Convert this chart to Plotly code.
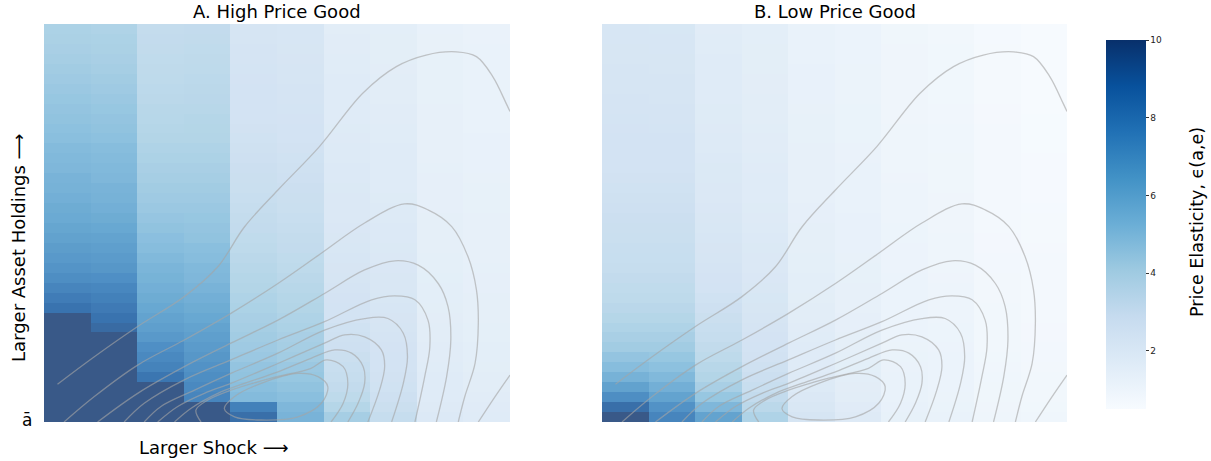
import plotly.graph_objects as go

# ---------------- data (each column: 40 asset rows, bottom -> top) ----------------
SHOCK_COLUMNS = list(range(10))
N_ROWS = 40

HIGH_S1 = [10]*11 + [8.8, 8.4, 8.0, 7.6, 7.3, 7.1, 6.9, 6.7, 6.5, 6.3, 6.2, 6.0, 5.9, 5.8, 5.6, 5.5, 5.4, 5.2, 5.1, 5.0,
                     4.9, 4.8, 4.7, 4.6, 4.5, 4.4, 4.3, 4.25, 4.2]
HIGH_S2 = [10]*9 + [9.2, 8.8, 8.5, 8.2, 7.9, 7.5, 7.2, 7.0, 6.8, 6.6, 6.4, 6.2, 6.0, 5.9, 5.8, 5.6, 5.5, 5.4, 5.3, 5.1, 5.0,
                    4.9, 4.8, 4.7, 4.6, 4.5, 4.4, 4.3, 4.25, 4.2, 4.1]
HIGH_S3 = [10]*4 + [8.7, 8.1, 7.8, 7.5, 7.1, 6.8, 6.6, 6.4, 6.2, 6.0, 5.85, 5.7, 5.5, 5.3, 5.15, 5.0, 4.85, 4.7, 4.6, 4.5,
                    4.4, 4.3, 4.2, 4.1, 4.0, 3.9, 3.85, 3.8, 3.7, 3.65, 3.6, 3.55, 3.5, 3.45, 3.4, 3.35]
HIGH_S4 = [10]*2 + [8.0, 7.8, 7.6, 7.4, 7.2, 7.0, 6.8, 6.6, 6.4, 6.2, 6.0, 5.8, 5.6, 5.5, 5.3, 5.2, 5.0, 4.9, 4.8, 4.7,
                    4.6, 4.5, 4.4, 4.3, 4.2, 4.1, 4.0, 3.95, 3.9, 3.8, 3.75, 3.7, 3.65, 3.6, 3.55, 3.5, 3.45, 3.4]
HIGH_S5 = [9.0, 8.2, 5.4, 5.2, 5.0, 4.9, 4.7, 4.6, 4.5, 4.4, 4.3, 4.2, 4.1, 4.0, 3.9, 3.8, 3.7, 3.6, 3.5, 3.4,
           3.35, 3.3, 3.2, 3.15, 3.1, 3.05, 3.0, 2.95, 2.9, 2.85, 2.8, 2.78, 2.75, 2.72, 2.7, 2.68, 2.65, 2.62, 2.6, 2.58]
HIGH_S6 = [5.8, 5.6, 5.2, 5.0, 4.8, 4.7, 4.5, 4.4, 4.3, 4.2, 4.1, 4.0, 3.9, 3.8, 3.7, 3.6, 3.5, 3.4, 3.35, 3.3,
           3.2, 3.15, 3.1, 3.05, 3.0, 2.95, 2.9, 2.85, 2.8, 2.75, 2.7, 2.68, 2.65, 2.62, 2.6, 2.58, 2.55, 2.52, 2.5, 2.48]
HIGH_S7 = [4.4, 3.9, 3.6, 3.4, 3.3, 3.2, 3.1, 3.0, 2.95, 2.9, 2.8, 2.75, 2.7, 2.65, 2.6, 2.55, 2.5, 2.45, 2.4, 2.35,
           2.3, 2.28, 2.25, 2.22, 2.2, 2.17, 2.15, 2.12, 2.1, 2.08, 2.05, 2.03, 2.0, 1.98, 1.96, 1.94, 1.92, 1.9, 1.88, 1.86]
HIGH_S8 = [3.3, 3.1, 3.0, 2.9, 2.85, 2.8, 2.75, 2.7, 2.65, 2.6, 2.55, 2.5, 2.45, 2.4, 2.36, 2.32, 2.28, 2.24, 2.2, 2.17,
           2.14, 2.11, 2.08, 2.05, 2.02, 2.0, 1.98, 1.96, 1.94, 1.92, 1.9, 1.88, 1.86, 1.84, 1.82, 1.8, 1.79, 1.78, 1.77, 1.76]
HIGH_S9 = [2.2, 2.1, 2.05, 2.0, 1.97, 1.94, 1.91, 1.88, 1.85, 1.82, 1.8, 1.78, 1.76, 1.74, 1.72, 1.7, 1.68, 1.66, 1.65, 1.64,
           1.62, 1.61, 1.6, 1.59, 1.58, 1.57, 1.56, 1.55, 1.54, 1.53, 1.52, 1.51, 1.5, 1.5, 1.49, 1.48, 1.48, 1.47, 1.47, 1.46]
HIGH_S10 = [2.0, 1.95, 1.9, 1.86, 1.82, 1.79, 1.76, 1.73, 1.7, 1.68, 1.66, 1.64, 1.62, 1.6, 1.58, 1.57, 1.56, 1.54, 1.53, 1.52,
            1.51, 1.5, 1.49, 1.48, 1.47, 1.46, 1.45, 1.44, 1.43, 1.42, 1.42, 1.41, 1.4, 1.4, 1.39, 1.39, 1.38, 1.38, 1.37, 1.37]

LOW_S1 = [10, 9.0, 7.6, 6.7, 5.9, 5.3, 4.9, 4.5, 4.3, 4.1, 3.9, 3.75, 3.6, 3.5, 3.4, 3.3, 3.25, 3.2, 3.15, 3.1,
          3.05, 3.0, 2.95, 2.9, 2.85, 2.8, 2.78, 2.75, 2.72, 2.7, 2.67, 2.65, 2.62, 2.6, 2.58, 2.56, 2.54, 2.52, 2.5, 2.48]
LOW_S2 = [8.0, 7.4, 6.6, 6.0, 5.5, 5.1, 4.8, 4.5, 4.3, 4.1, 3.9, 3.75, 3.6, 3.5, 3.4, 3.3, 3.25, 3.2, 3.15, 3.1,
          3.05, 3.0, 2.95, 2.9, 2.85, 2.8, 2.77, 2.74, 2.71, 2.68, 2.65, 2.62, 2.6, 2.58, 2.56, 2.54, 2.52, 2.5, 2.48, 2.46]
LOW_S3 = [6.6, 5.6, 4.8, 4.3, 4.0, 3.8, 3.6, 3.45, 3.3, 3.2, 3.1, 3.0, 2.9, 2.8, 2.7, 2.65, 2.6, 2.55, 2.5, 2.45,
          2.4, 2.35, 2.3, 2.27, 2.24, 2.21, 2.18, 2.15, 2.12, 2.1, 2.08, 2.06, 2.04, 2.02, 2.0, 1.98, 1.96, 1.94, 1.92, 1.9]
LOW_S4 = [4.1, 3.7, 3.4, 3.2, 3.05, 2.95, 2.85, 2.78, 2.7, 2.64, 2.58, 2.52, 2.46, 2.4, 2.35, 2.3, 2.26, 2.22, 2.18, 2.14,
          2.1, 2.07, 2.04, 2.01, 1.98, 1.95, 1.93, 1.91, 1.89, 1.87, 1.85, 1.83, 1.82, 1.81, 1.8, 1.79, 1.78, 1.77, 1.76, 1.75]
LOW_S5 = [2.6, 2.4, 2.25, 2.15, 2.1, 2.05, 2.0, 1.96, 1.92, 1.88, 1.85, 1.82, 1.79, 1.76, 1.73, 1.7, 1.68, 1.66, 1.64, 1.62,
          1.6, 1.58, 1.56, 1.55, 1.54, 1.53, 1.52, 1.51, 1.5, 1.49, 1.48, 1.47, 1.46, 1.45, 1.44, 1.43, 1.42, 1.41, 1.4, 1.4]
LOW_S6 = [2.1, 1.95, 1.85, 1.8, 1.76, 1.72, 1.69, 1.66, 1.63, 1.6, 1.58, 1.56, 1.54, 1.52, 1.5, 1.48, 1.47, 1.46, 1.45, 1.44,
          1.43, 1.42, 1.41, 1.4, 1.39, 1.38, 1.37, 1.36, 1.35, 1.35, 1.34, 1.34, 1.33, 1.33, 1.32, 1.32, 1.31, 1.31, 1.3, 1.3]
LOW_S7 = [1.5, 1.45, 1.42, 1.4, 1.38, 1.36, 1.34, 1.32, 1.3, 1.29, 1.28, 1.27, 1.26, 1.25, 1.24, 1.23, 1.22, 1.21, 1.2, 1.19,
          1.18, 1.17, 1.16, 1.15, 1.14, 1.13, 1.12, 1.11, 1.1, 1.1, 1.09, 1.09, 1.08, 1.08, 1.07, 1.07, 1.06, 1.06, 1.05, 1.05]
LOW_S8 = [1.4, 1.35, 1.32, 1.3, 1.28, 1.26, 1.24, 1.22, 1.2, 1.19, 1.18, 1.17, 1.16, 1.15, 1.14, 1.13, 1.12, 1.11, 1.1, 1.09,
          1.08, 1.07, 1.06, 1.05, 1.04, 1.03, 1.02, 1.01, 1.0, 1.0, 0.99, 0.99, 0.98, 0.98, 0.97, 0.97, 0.96, 0.96, 0.95, 0.95]
LOW_S9 = [1.1, 1.07, 1.05, 1.03, 1.01, 0.99, 0.97, 0.95, 0.94, 0.93, 0.92, 0.91, 0.9, 0.89, 0.88, 0.87, 0.86, 0.85, 0.84, 0.83,
          0.82, 0.81, 0.8, 0.8, 0.79, 0.79, 0.78, 0.78, 0.77, 0.77, 0.76, 0.76, 0.75, 0.75, 0.74, 0.74, 0.73, 0.73, 0.72, 0.72]
LOW_S10 = [1.0, 0.97, 0.95, 0.93, 0.91, 0.89, 0.87, 0.86, 0.85, 0.84, 0.83, 0.82, 0.81, 0.8, 0.79, 0.78, 0.77, 0.76, 0.75, 0.74,
           0.73, 0.72, 0.71, 0.7, 0.7, 0.69, 0.69, 0.68, 0.68, 0.67, 0.67, 0.66, 0.66, 0.65, 0.65, 0.64, 0.64, 0.63, 0.63, 0.62]

# density contours of the stationary distribution (shock units, asset share)
C1_X = [0.29, 1.08, 2.01, 3.01, 3.73, 4.3, 5.02, 5.91, 6.84, 7.56, 8.2, 8.85, 9.28, 9.63, 9.92, 10.0, None, 10.0, 9.68, 9.32]
C1_Y = [0.095, 0.164, 0.24, 0.315, 0.39, 0.49, 0.583, 0.692, 0.826, 0.893, 0.922, 0.93, 0.918, 0.868, 0.80, 0.78, None, 0.118, 0.064, 0.0]
C2_X = [0.43, 1.08, 2.01, 3.01, 4.01, 5.02, 5.95, 6.88, 7.74, 8.24, 8.75, 9.1, 9.28, 9.32, 9.25, 9.03, 8.89]
C2_Y = [0.0, 0.064, 0.143, 0.206, 0.273, 0.348, 0.424, 0.5, 0.548, 0.533, 0.491, 0.415, 0.332, 0.248, 0.147, 0.064, 0.0]
C3_X = [1.15, 2.01, 3.01, 4.01, 5.02, 6.02, 6.88, 7.53, 8.03, 8.46, 8.67, 8.73, 8.64, 8.42]
C3_Y = [0.0, 0.072, 0.139, 0.198, 0.256, 0.323, 0.382, 0.405, 0.394, 0.348, 0.29, 0.206, 0.114, 0.0]
C4_X = [1.72, 2.15, 3.01, 4.01, 5.02, 6.02, 7.03, 7.53, 7.96, 8.24, 8.28, 8.17, 7.96]
C4_Y = [0.0, 0.047, 0.106, 0.156, 0.206, 0.252, 0.307, 0.317, 0.307, 0.256, 0.189, 0.114, 0.0]
C5_X = [2.15, 2.51, 3.23, 4.01, 5.02, 6.02, 6.88, 7.38, 7.71, 7.8, 7.71, 7.46]
C5_Y = [0.0, 0.039, 0.08, 0.122, 0.173, 0.231, 0.26, 0.26, 0.223, 0.164, 0.097, 0.0]
C6_X = [2.44, 2.87, 3.44, 4.01, 5.02, 6.02, 6.45, 6.88, 7.24, 7.31, 7.2, 6.95]
C6_Y = [0.0, 0.039, 0.072, 0.097, 0.147, 0.198, 0.219, 0.214, 0.181, 0.139, 0.08, 0.0]
C7_X = [2.8, 3.15, 3.73, 4.3, 5.02, 5.73, 6.24, 6.6, 6.85, 6.88, 6.74, 6.52]
C7_Y = [0.0, 0.034, 0.072, 0.097, 0.126, 0.16, 0.181, 0.173, 0.139, 0.097, 0.047, 0.0]
C8_X = [3.37, 3.26, 3.51, 4.01, 4.87, 5.73, 6.06, 6.42, 6.52, 6.42, 6.16]
C8_Y = [0.0, 0.03, 0.055, 0.08, 0.11, 0.135, 0.156, 0.139, 0.097, 0.047, 0.0]
C9_X = [3.87, 4.09, 4.66, 5.45, 5.88, 6.09, 5.95, 5.45, 4.66, 4.09, 3.87]
C9_Y = [0.034, 0.064, 0.097, 0.122, 0.114, 0.089, 0.047, 0.013, 0.005, 0.013, 0.034]

CBAR_TICKS = [2, 4, 6, 8, 10]
Z_MIN, Z_MAX = 0.5, 10

# ---------------- build ----------------
high_cols = [HIGH_S1, HIGH_S2, HIGH_S3, HIGH_S4, HIGH_S5, HIGH_S6, HIGH_S7, HIGH_S8, HIGH_S9, HIGH_S10]
low_cols = [LOW_S1, LOW_S2, LOW_S3, LOW_S4, LOW_S5, LOW_S6, LOW_S7, LOW_S8, LOW_S9, LOW_S10]
contours = [(C1_X, C1_Y), (C2_X, C2_Y), (C3_X, C3_Y), (C4_X, C4_Y), (C5_X, C5_Y),
            (C6_X, C6_Y), (C7_X, C7_Y), (C8_X, C8_Y), (C9_X, C9_Y)]

def to_z(cols):
    return [[c[r] for c in cols] for r in range(N_ROWS)]

x_cent = [i + 0.5 for i in SHOCK_COLUMNS]
y_cent = [(r + 0.5) / N_ROWS for r in range(N_ROWS)]

BLUES = [[0.0, 'rgb(247,251,255)'], [0.125, 'rgb(222,235,247)'], [0.25, 'rgb(198,219,239)'],
         [0.375, 'rgb(158,202,225)'], [0.5, 'rgb(107,174,214)'], [0.625, 'rgb(66,146,198)'],
         [0.75, 'rgb(33,113,181)'], [0.875, 'rgb(8,81,156)'], [1.0, 'rgb(8,48,107)']]

FONT = 'DejaVu Sans'
W, H = 1211, 461

fig = go.Figure()
for k, (cols, xa, ya) in enumerate([(high_cols, 'x', 'y'), (low_cols, 'x2', 'y2')]):
    fig.add_trace(go.Heatmap(
        z=to_z(cols), x=x_cent, y=y_cent, xaxis=xa, yaxis=ya,
        zmin=Z_MIN, zmax=Z_MAX, colorscale=BLUES, opacity=0.8,
        showscale=(k == 1), hoverinfo='skip',
        colorbar=dict(x=1106 / W, xanchor='left', y=(H - 224.5) / H, yanchor='middle',
                      len=369 / H, lenmode='fraction', thickness=40, outlinewidth=0,
                      xpad=0, ypad=0,
                      tickvals=CBAR_TICKS, ticks='outside', ticklen=3, tickwidth=1,
                      tickcolor='#333', tickfont=dict(family=FONT, size=9, color='#222')),
    ))
    for cx, cy in contours:
        fig.add_trace(go.Scatter(
            x=cx, y=cy, xaxis=xa, yaxis=ya, mode='lines',
            line=dict(color='rgba(165,165,165,0.62)', width=1.3, shape='spline', smoothing=1.0),
            hoverinfo='skip', showlegend=False,
        ))

ydom = [(H - 422) / H, (H - 24) / H]
axis_common = dict(showgrid=False, zeroline=False, showticklabels=False, ticks='', showline=False)
fig.update_layout(
    width=W, height=H, margin=dict(l=0, r=0, t=0, b=0),
    paper_bgcolor='white', plot_bgcolor='white', showlegend=False,
    xaxis=dict(domain=[44 / W, 510 / W], range=[0, 10], **axis_common),
    yaxis=dict(domain=ydom, range=[0, 1], **axis_common),
    xaxis2=dict(domain=[602 / W, 1067 / W], range=[0, 10], anchor='y2', **axis_common),
    yaxis2=dict(domain=ydom, range=[0, 1], anchor='x2', **axis_common),
    font=dict(family=FONT, color='black'),
)

ann = [
    dict(text='A. High Price Good', x=277 / W, y=(H - 12) / H, size=18, angle=0),
    dict(text='B. Low Price Good', x=835 / W, y=(H - 12) / H, size=18, angle=0),
    dict(text='Larger Asset Holdings ⟶', x=18 / W, y=(H - 248) / H, size=18, angle=-90),
    dict(text='Larger Shock ⟶', x=213 / W, y=(H - 447) / H, size=18, angle=0),
    dict(text='ā', x=27 / W, y=(H - 420) / H, size=17, angle=0),
    dict(text='Price Elasticity, ϵ(a,e)', x=1197 / W, y=(H - 222) / H, size=17.5, angle=-90),
]
for a in ann:
    fig.add_annotation(text=a['text'], x=a['x'], y=a['y'], xref='paper', yref='paper',
                       xanchor='center', yanchor='middle', showarrow=False, textangle=a['angle'],
                       font=dict(family=FONT, size=a['size'], color='black'))

fig.write_html('out.html', config={'displayModeBar': False},
               post_script="document.body.style.margin='0px';document.body.style.overflow='hidden';")
